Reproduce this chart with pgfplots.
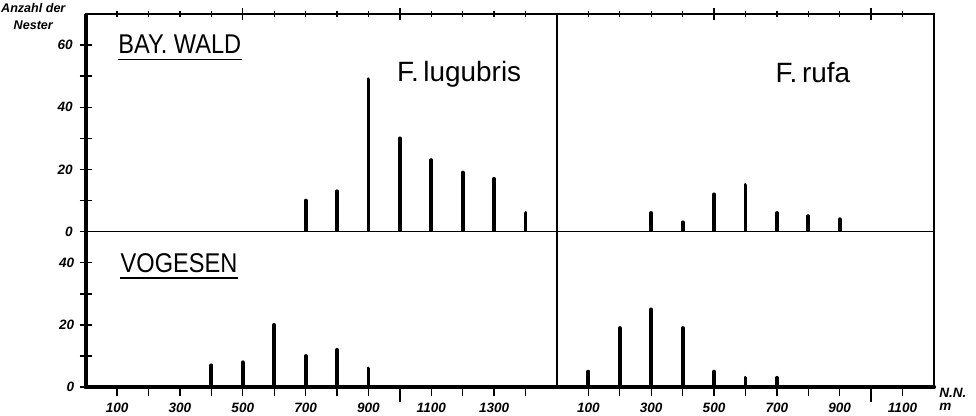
\documentclass[border=0pt]{standalone}
\usepackage{fontspec}
\setmainfont{Liberation Sans}
\usepackage{graphicx}
\usepackage{pgfplots}
\usepackage{pgfplotstable}
\pgfplotsset{compat=1.18}

% Nester je Hoehenstufe (m NN)
\pgfplotstableread{
x   y
700 10
800 13
900 49
1000 30
1100 23
1200 19
1300 17
1400 6
}\lugBay
\pgfplotstableread{
x   y
300 6
400 3
500 12
600 15
700 6
800 5
900 4
}\rufBay
\pgfplotstableread{
x   y
400 7
500 8
600 20
700 10
800 12
900 6
}\lugVog
\pgfplotstableread{
x   y
100 5
200 19
300 25
400 19
500 5
600 3
700 3
}\rufVog

\newcommand{\tickfont}{\fontsize{6.8}{7}\selectfont\bfseries\itshape}
\newcommand{\bigfont}{\fontsize{13.6}{15}\selectfont}

\pgfplotsset{
  panel/.style={
    scale only axis, width=425.5pt,
    xmin=0, xmax=2700,
    axis line style={line width=0.8pt},
    tick style={black, line width=0.7pt},
    tick align=center,
    ytick pos=left,
    yticklabel style={font=\tickfont},
    xticklabel style={font=\tickfont},
  },
  bars/.style={ycomb, black, line width=1.9pt, line cap=round, mark=none},
}

\begin{document}
\begin{tikzpicture}
\useasboundingbox (-43pt,-14pt) rectangle (446.6pt,194.2pt);

\begin{axis}[panel, name=top, at={(0,78pt)}, anchor=south west,
  height=109.2pt, ymin=0, ymax=70,
  xtick pos=right, major tick length=6pt, minor tick length=3pt,
  xtick={500,1000,2000,2500}, xticklabels={{},{},{},{}},
  minor xtick={100,200,300,400,600,700,800,900,1100,1200,1300,1400,1600,1700,1800,1900,2100,2200,2300,2400,2600},
  ytick={0,10,20,30,40,50,60}, yticklabels={0,,20,,40,,60},
]
\addplot[bars] table[x=x, y=y] {\lugBay};
\addplot[bars] table[x expr=\thisrow{x}+1500, y=y] {\rufBay};
\draw[line width=0.8pt] (axis cs:1500,0) -- (axis cs:1500,70);
\node[anchor=base west, inner sep=0] (bw) at (axis cs:103,57.3) {\bigfont\scalebox{0.87}[1]{BAY. WALD}};
\draw[line width=0.8pt] ([yshift=-3pt]bw.base west) -- ([yshift=-3pt]bw.base east);
\node[anchor=base west, inner sep=0] at (axis cs:990,48.4) {\fontsize{14}{16}\selectfont F.\,lugubris};
\node[anchor=base west, inner sep=0] at (axis cs:2195,48) {\fontsize{14}{16}\selectfont F.\,rufa};
\end{axis}

\begin{axis}[panel, name=bot, at={(0,0)}, anchor=south west,
  height=78pt, ymin=0, ymax=50,
  xtick pos=left, xtick align=outside,
  major tick length=4.6pt, minor tick length=7.3pt,
  xtick={100,300,500,700,900,1100,1300,1600,1800,2000,2200,2400,2600},
  xticklabels={100,300,500,700,900,1100,1300,100,300,500,700,900,1100},
  extra x ticks={200,400,600,800,1200,1400,1700,1900,2100,2300},
  extra x tick labels={},
  minor xtick={1000,2500},
  ytick={0,10,20,30,40}, yticklabels={0,,20,,40},
  ytick style={/pgfplots/major tick length=6pt},
]
\addplot[bars] table[x=x, y=y] {\lugVog};
\addplot[bars] table[x expr=\thisrow{x}+1500, y=y] {\rufVog};
\draw[line width=0.8pt] (axis cs:1500,0) -- (axis cs:1500,50);
\node[anchor=base west, inner sep=0] (vg) at (axis cs:110,37) {\bigfont\scalebox{0.87}[1]{VOGESEN}};
\draw[line width=0.8pt] ([yshift=-3pt]vg.base west) -- ([yshift=-3pt]vg.base east);
\end{axis}

% kraeftige Achsen links und unten
\draw[line width=2pt] (top.north west) -- (bot.south west);
\draw[line width=2.2pt, line cap=round] (bot.south west) -- (bot.south east);

\node[anchor=north east, align=center, inner sep=0, font=\fontsize{6.3}{8.5}\selectfont\bfseries\itshape]
  at ([xshift=-10pt,yshift=5.5pt]top.north west) {Anzahl der\\Nester};
\node[anchor=west, inner sep=0, font=\tickfont] at ([xshift=2.5pt,yshift=-3pt]bot.south east) {N.N.};
\node[anchor=west, inner sep=0, font=\tickfont] at ([xshift=2.5pt,yshift=-10pt]bot.south east) {m};
\end{tikzpicture}
\end{document}
